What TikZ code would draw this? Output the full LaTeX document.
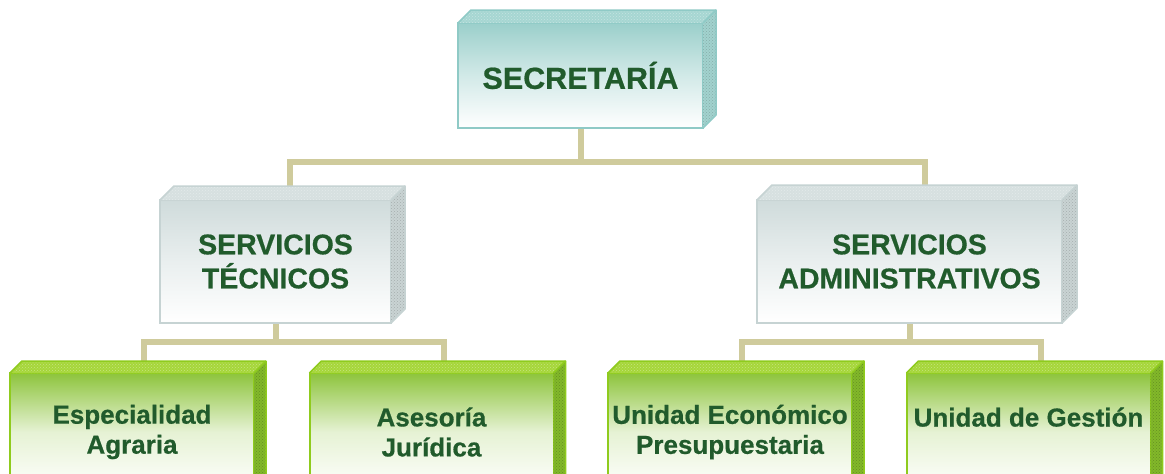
\documentclass[tikz,border=0pt]{standalone}
\usepackage{fontspec}
\setmainfont{Liberation Sans}[BoldFeatures={FakeBold=0.6}]
\usetikzlibrary{calc,patterns}
\definecolor{txt}{HTML}{215B2C}
\definecolor{conncol}{HTML}{CFCB9C}
\definecolor{tealtop}{HTML}{9BCFCB}
\definecolor{tealface}{HTML}{A6D6D2}
\definecolor{tealside}{HTML}{A2D2CE}
\definecolor{tealbord}{HTML}{8FCAC6}
\definecolor{graytop}{HTML}{CFDBDB}
\definecolor{grayface}{HTML}{D6E0E0}
\definecolor{grayside}{HTML}{C9D3D3}
\definecolor{graybord}{HTML}{C6D3D3}
\definecolor{greentop}{HTML}{8DC43C}
\definecolor{greenface}{HTML}{A6D63A}
\definecolor{greenside}{HTML}{82B82A}
\definecolor{greenbord}{HTML}{8FCB1E}
\newcommand\boxfaces[6]{%
  \fill[#3] (#1.north west) -- ++(#2,-#2) -- ($(#1.north east)+(#2,-#2)$) -- (#1.north east) -- cycle;
  \fill[pattern=crosshatch dots, pattern color=white, opacity=.35] (#1.north west) -- ++(#2,-#2) -- ($(#1.north east)+(#2,-#2)$) -- (#1.north east) -- cycle;
  \fill[#4] (#1.north east) -- ++(#2,-#2) -- ($(#1.south east)+(#2,-#2)$) -- (#1.south east) -- cycle;
  \fill[pattern=crosshatch dots, pattern color=#6, opacity=.45] (#1.north east) -- ++(#2,-#2) -- ($(#1.south east)+(#2,-#2)$) -- (#1.south east) -- cycle;
  \draw[#5, line width=1.5pt, line join=round] (#1.north west) -- ++(#2,-#2) -- ($(#1.north east)+(#2,-#2)$) -- ($(#1.south east)+(#2,-#2)$) -- (#1.south east);
  \draw[#5, line width=1.5pt] (#1.north east) -- ++(#2,-#2);
}
\tikzset{
  boxbase/.style={rectangle, inner sep=0pt, outer sep=0pt, line width=2pt, align=center, text=txt},
  secbox/.style={boxbase, draw=tealbord, top color=tealtop, bottom color=white, middle color=tealtop!45!white,
    font=\fontsize{30.5}{34}\selectfont\bfseries},
  midbox/.style={boxbase, draw=graybord, top color=graytop, bottom color=white, middle color=graytop!45!white,
    font=\fontsize{28.5}{34}\selectfont\bfseries},
  lowbox/.style={boxbase, draw=greenbord, top color=greentop, bottom color=white, middle color=greentop!22!white,
    font=\fontsize{26}{30}\selectfont\bfseries, minimum width=244pt, minimum height=118pt},
  conn/.style={draw=conncol, line width=6pt}
}
\begin{document}
\begin{tikzpicture}[x=1pt,y=-1pt]
\clip (0,0) rectangle (1165,474);
\fill[white] (0,0) rectangle (1165,474);
% nodes
\node[secbox, minimum width=245pt, minimum height=105pt] (sec) at (580.5,75.5) {SECRETARÍA};
\node[midbox, minimum width=231pt, minimum height=123pt] (st) at (275.5,261.5) {SERVICIOS\\TÉCNICOS};
\node[midbox, minimum width=305pt, minimum height=123pt] (sa) at (909.5,261.5) {SERVICIOS\\ADMINISTRATIVOS};
\node[lowbox] (b1) at (132,432) {Especialidad\\Agraria};
\node[lowbox] (b2) at (431.5,432) {Asesoría\\Jurídica};
\node[lowbox] (b3) at (730,432) {Unidad Económico\\Presupuestaria};
\node[lowbox] (b4) at (1028.5,432) {Unidad de Gestión\\\mbox{}};
% top-face back centres
\coordinate (st-top) at ($(st.north)+(14,-14)$);
\coordinate (sa-top) at ($(sa.north)+(15,-15)$);
\coordinate (b1-top) at ($(b1.north)+(12,-12)$);
\coordinate (b2-top) at ($(b2.north)+(12,-12)$);
\coordinate (b3-top) at ($(b3.north)+(12,-12)$);
\coordinate (b4-top) at ($(b4.north)+(12,-12)$);
% connectors
\draw[conn] (sec.south) -- ++(0,34) -| (st-top);
\draw[conn] (sec.south) -- ++(0,34) -| (sa-top);
\draw[conn] (st.south) -- ++(0,19) -| (b1-top);
\draw[conn] (st.south) -- ++(0,19) -| (b2-top);
\draw[conn] (sa.south) -- ++(0,19) -| (b3-top);
\draw[conn] (sa.south) -- ++(0,19) -| (b4-top);
% redraw nodes above connectors
\node[secbox, minimum width=245pt, minimum height=105pt] at (sec) {SECRETARÍA};
\boxfaces{sec}{13}{tealface}{tealside}{tealbord}{tealside!60!black}
\node[midbox, minimum width=231pt, minimum height=123pt] at (st) {SERVICIOS\\TÉCNICOS};
\boxfaces{st}{14}{grayface}{grayside}{graybord}{grayside!60!black}
\node[midbox, minimum width=305pt, minimum height=123pt] at (sa) {SERVICIOS\\ADMINISTRATIVOS};
\boxfaces{sa}{15}{grayface}{grayside}{graybord}{grayside!60!black}
\node[lowbox] at (b1) {Especialidad\\Agraria};
\boxfaces{b1}{12}{greenface}{greenside}{greenbord}{greenside!50!black}
\node[lowbox] at (b2) {Asesoría\\Jurídica};
\boxfaces{b2}{12}{greenface}{greenside}{greenbord}{greenside!50!black}
\node[lowbox] at (b3) {Unidad Económico\\Presupuestaria};
\boxfaces{b3}{12}{greenface}{greenside}{greenbord}{greenside!50!black}
\node[lowbox] at (b4) {Unidad de Gestión\\\mbox{}};
\boxfaces{b4}{12}{greenface}{greenside}{greenbord}{greenside!50!black}
\end{tikzpicture}
\end{document}
